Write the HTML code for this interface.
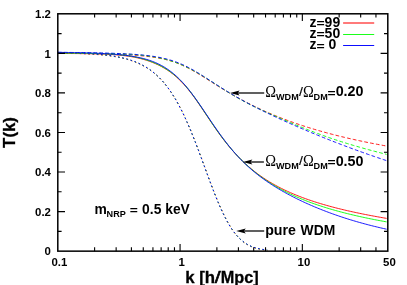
<!DOCTYPE html>
<html><head><meta charset="utf-8"><title>T(k)</title>
<style>
html,body{margin:0;padding:0;background:#fff;}
body{width:407px;height:285px;overflow:hidden;position:relative;font-family:"Liberation Sans",sans-serif;}
svg{position:absolute;left:0;top:0;}
text{font-family:"Liberation Sans",sans-serif;font-weight:bold;fill:#000;}
.om{font-family:"Liberation Serif",serif;font-weight:normal;}
.rg{font-weight:normal;}
</style></head><body>
<svg style="will-change:transform" width="407" height="285" viewBox="0 0 407 285">
<rect x="0" y="0" width="407" height="285" fill="#fff"/>
<g fill="none" stroke-width="0.9">
<path d="M58.0,53.22 L59.5,53.23 L61.0,53.23 L62.5,53.24 L64.0,53.24 L65.5,53.25 L67.0,53.25 L68.5,53.26 L70.0,53.27 L71.5,53.28 L73.0,53.28 L74.5,53.29 L76.0,53.30 L77.5,53.31 L79.0,53.32 L80.5,53.34 L82.0,53.35 L83.5,53.36 L85.0,53.38 L86.5,53.40 L88.0,53.41 L89.5,53.43 L91.0,53.45 L92.5,53.48 L94.0,53.50 L95.5,53.52 L97.0,53.55 L98.5,53.58 L100.0,53.61 L101.5,53.65 L103.0,53.68 L104.5,53.72 L106.0,53.76 L107.5,53.80 L109.0,53.85 L110.5,53.90 L112.0,53.95 L113.5,54.00 L115.0,54.06 L116.5,54.12 L118.0,54.19 L119.5,54.26 L121.0,54.33 L122.5,54.41 L124.0,54.49 L125.5,54.57 L127.0,54.66 L128.6,54.75 L130.1,54.85 L131.6,54.95 L133.1,55.06 L134.6,55.18 L136.1,55.30 L137.6,55.42 L139.1,55.55 L140.6,55.69 L142.1,55.83 L143.6,55.99 L145.1,56.15 L146.6,56.32 L148.1,56.49 L149.6,56.68 L151.1,56.88 L152.6,57.09 L154.1,57.31 L155.6,57.54 L157.1,57.79 L158.6,58.06 L160.1,58.34 L161.6,58.64 L163.1,58.95 L164.6,59.29 L166.1,59.65 L167.6,60.03 L169.1,60.44 L170.6,60.87 L172.1,61.33 L173.6,61.82 L175.1,62.33 L176.6,62.88 L178.1,63.45 L179.6,64.05 L181.1,64.69 L182.6,65.35 L184.1,66.04 L185.6,66.76 L187.1,67.50 L188.6,68.27 L190.1,69.06 L191.6,69.87 L193.1,70.71 L194.6,71.57 L196.1,72.44 L197.6,73.33 L199.1,74.24 L200.6,75.16 L202.1,76.08 L203.6,77.02 L205.1,77.96 L206.6,78.91 L208.1,79.86 L209.6,80.81 L211.1,81.76 L212.6,82.71 L214.1,83.66 L215.6,84.60 L217.1,85.54 L218.6,86.48 L220.1,87.41 L221.6,88.33 L223.1,89.25 L224.6,90.15 L226.1,91.05 L227.6,91.94 L229.1,92.83 L230.6,93.70 L232.1,94.56 L233.6,95.42 L235.1,96.26 L236.6,97.10 L238.1,97.93 L239.6,98.74 L241.1,99.55 L242.6,100.35 L244.1,101.14 L245.6,101.92 L247.1,102.70 L248.6,103.47 L250.1,104.23 L251.6,104.98 L253.1,105.72 L254.6,106.45 L256.1,107.18 L257.6,107.89 L259.1,108.60 L260.6,109.29 L262.1,109.98 L263.6,110.66 L265.1,111.33 L266.6,111.99 L268.1,112.65 L269.6,113.29 L271.1,113.93 L272.6,114.56 L274.1,115.18 L275.6,115.80 L277.1,116.41 L278.6,117.00 L280.1,117.60 L281.6,118.18 L283.1,118.76 L284.6,119.33 L286.1,119.89 L287.6,120.45 L289.1,121.00 L290.6,121.54 L292.1,122.08 L293.6,122.61 L295.1,123.13 L296.6,123.65 L298.1,124.16 L299.6,124.67 L301.1,125.16 L302.6,125.66 L304.1,126.14 L305.6,126.63 L307.1,127.10 L308.6,127.57 L310.1,128.04 L311.6,128.50 L313.1,128.95 L314.6,129.40 L316.1,129.84 L317.6,130.28 L319.1,130.71 L320.6,131.14 L322.1,131.57 L323.6,131.98 L325.1,132.40 L326.6,132.81 L328.1,133.21 L329.6,133.61 L331.1,134.01 L332.6,134.40 L334.1,134.79 L335.6,135.17 L337.1,135.55 L338.6,135.92 L340.1,136.29 L341.6,136.66 L343.1,137.02 L344.6,137.38 L346.1,137.74 L347.6,138.09 L349.1,138.43 L350.6,138.78 L352.1,139.12 L353.6,139.45 L355.1,139.79 L356.6,140.12 L358.1,140.44 L359.6,140.76 L361.1,141.08 L362.6,141.40 L364.1,141.71 L365.6,142.02 L367.1,142.33 L368.6,142.63 L370.1,142.93 L371.6,143.23 L373.1,143.52 L374.6,143.82 L376.1,144.10 L377.6,144.39 L379.1,144.67 L380.6,144.95 L382.1,145.23 L383.6,145.51 L385.1,145.78 L386.6,146.05" stroke="#f00" stroke-dasharray="3.7,2.2"/>
<path d="M58.0,53.06 L59.5,53.06 L61.0,53.06 L62.5,53.07 L64.0,53.07 L65.5,53.08 L67.0,53.08 L68.5,53.08 L70.0,53.09 L71.5,53.10 L73.0,53.10 L74.5,53.11 L76.0,53.12 L77.5,53.12 L79.0,53.13 L80.5,53.14 L82.0,53.15 L83.5,53.16 L85.0,53.17 L86.5,53.18 L88.0,53.19 L89.5,53.21 L91.0,53.22 L92.5,53.24 L94.0,53.25 L95.5,53.27 L97.0,53.29 L98.5,53.31 L100.0,53.33 L101.5,53.36 L103.0,53.38 L104.5,53.41 L106.0,53.44 L107.5,53.47 L109.0,53.50 L110.5,53.54 L112.0,53.58 L113.5,53.62 L115.0,53.66 L116.5,53.71 L118.0,53.76 L119.5,53.82 L121.0,53.87 L122.5,53.94 L124.0,54.00 L125.5,54.08 L127.0,54.15 L128.6,54.23 L130.1,54.32 L131.6,54.42 L133.1,54.52 L134.6,54.63 L136.1,54.74 L137.6,54.86 L139.1,54.99 L140.6,55.14 L142.1,55.28 L143.6,55.44 L145.1,55.61 L146.6,55.80 L148.1,55.99 L149.6,56.20 L151.1,56.41 L152.6,56.65 L154.1,56.89 L155.6,57.16 L157.1,57.43 L158.6,57.73 L160.1,58.04 L161.6,58.37 L163.1,58.72 L164.6,59.09 L166.1,59.48 L167.6,59.89 L169.1,60.32 L170.6,60.78 L172.1,61.25 L173.6,61.75 L175.1,62.27 L176.6,62.82 L178.1,63.39 L179.6,63.99 L181.1,64.61 L182.6,65.25 L184.1,65.92 L185.6,66.61 L187.1,67.33 L188.6,68.06 L190.1,68.82 L191.6,69.60 L193.1,70.41 L194.6,71.23 L196.1,72.07 L197.6,72.94 L199.1,73.81 L200.6,74.71 L202.1,75.62 L203.6,76.54 L205.1,77.47 L206.6,78.41 L208.1,79.36 L209.6,80.32 L211.1,81.28 L212.6,82.25 L214.1,83.22 L215.6,84.19 L217.1,85.16 L218.6,86.13 L220.1,87.10 L221.6,88.06 L223.1,89.01 L224.6,89.96 L226.1,90.91 L227.6,91.84 L229.1,92.76 L230.6,93.68 L232.1,94.58 L233.6,95.47 L235.1,96.36 L236.6,97.23 L238.1,98.08 L239.6,98.93 L241.1,99.76 L242.6,100.58 L244.1,101.39 L245.6,102.19 L247.1,102.98 L248.6,103.75 L250.1,104.52 L251.6,105.27 L253.1,106.01 L254.6,106.75 L256.1,107.47 L257.6,108.18 L259.1,108.89 L260.6,109.59 L262.1,110.28 L263.6,110.97 L265.1,111.64 L266.6,112.32 L268.1,112.99 L269.6,113.65 L271.1,114.31 L272.6,114.97 L274.1,115.63 L275.6,116.28 L277.1,116.93 L278.6,117.58 L280.1,118.22 L281.6,118.87 L283.1,119.51 L284.6,120.15 L286.1,120.79 L287.6,121.43 L289.1,122.06 L290.6,122.70 L292.1,123.33 L293.6,123.96 L295.1,124.58 L296.6,125.20 L298.1,125.82 L299.6,126.44 L301.1,127.05 L302.6,127.66 L304.1,128.26 L305.6,128.86 L307.1,129.45 L308.6,130.04 L310.1,130.63 L311.6,131.21 L313.1,131.79 L314.6,132.36 L316.1,132.92 L317.6,133.48 L319.1,134.04 L320.6,134.59 L322.1,135.13 L323.6,135.67 L325.1,136.21 L326.6,136.74 L328.1,137.26 L329.6,137.78 L331.1,138.29 L332.6,138.80 L334.1,139.31 L335.6,139.81 L337.1,140.30 L338.6,140.79 L340.1,141.28 L341.6,141.76 L343.1,142.23 L344.6,142.70 L346.1,143.17 L347.6,143.63 L349.1,144.09 L350.6,144.55 L352.1,145.00 L353.6,145.44 L355.1,145.89 L356.6,146.32 L358.1,146.76 L359.6,147.19 L361.1,147.62 L362.6,148.04 L364.1,148.46 L365.6,148.88 L367.1,149.29 L368.6,149.70 L370.1,150.11 L371.6,150.51 L373.1,150.91 L374.6,151.31 L376.1,151.70 L377.6,152.10 L379.1,152.48 L380.6,152.87 L382.1,153.25 L383.6,153.63 L385.1,154.01 L386.6,154.38" stroke="#0f0" stroke-dasharray="3.7,2.2"/>
<path d="M58.0,52.33 L59.5,52.34 L61.0,52.35 L62.5,52.37 L64.0,52.38 L65.5,52.40 L67.0,52.41 L68.5,52.43 L70.0,52.44 L71.5,52.46 L73.0,52.47 L74.5,52.49 L76.0,52.51 L77.5,52.53 L79.0,52.55 L80.5,52.57 L82.0,52.59 L83.5,52.61 L85.0,52.64 L86.5,52.66 L88.0,52.68 L89.5,52.71 L91.0,52.74 L92.5,52.76 L94.0,52.79 L95.5,52.82 L97.0,52.86 L98.5,52.89 L100.0,52.92 L101.5,52.96 L103.0,53.00 L104.5,53.03 L106.0,53.08 L107.5,53.12 L109.0,53.16 L110.5,53.21 L112.0,53.26 L113.5,53.31 L115.0,53.36 L116.5,53.42 L118.0,53.48 L119.5,53.54 L121.0,53.60 L122.5,53.67 L124.0,53.74 L125.5,53.82 L127.0,53.90 L128.6,53.98 L130.1,54.07 L131.6,54.16 L133.1,54.26 L134.6,54.37 L136.1,54.48 L137.6,54.59 L139.1,54.72 L140.6,54.85 L142.1,54.99 L143.6,55.13 L145.1,55.29 L146.6,55.46 L148.1,55.64 L149.6,55.82 L151.1,56.03 L152.6,56.24 L154.1,56.47 L155.6,56.71 L157.1,56.97 L158.6,57.24 L160.1,57.53 L161.6,57.84 L163.1,58.17 L164.6,58.52 L166.1,58.89 L167.6,59.28 L169.1,59.70 L170.6,60.14 L172.1,60.61 L173.6,61.10 L175.1,61.62 L176.6,62.17 L178.1,62.74 L179.6,63.35 L181.1,63.97 L182.6,64.63 L184.1,65.32 L185.6,66.03 L187.1,66.78 L188.6,67.55 L190.1,68.35 L191.6,69.17 L193.1,70.01 L194.6,70.87 L196.1,71.76 L197.6,72.65 L199.1,73.57 L200.6,74.49 L202.1,75.43 L203.6,76.38 L205.1,77.34 L206.6,78.30 L208.1,79.27 L209.6,80.24 L211.1,81.21 L212.6,82.18 L214.1,83.15 L215.6,84.12 L217.1,85.08 L218.6,86.04 L220.1,87.00 L221.6,87.95 L223.1,88.89 L224.6,89.82 L226.1,90.75 L227.6,91.67 L229.1,92.58 L230.6,93.48 L232.1,94.38 L233.6,95.26 L235.1,96.14 L236.6,97.01 L238.1,97.87 L239.6,98.72 L241.1,99.57 L242.6,100.40 L244.1,101.23 L245.6,102.05 L247.1,102.85 L248.6,103.65 L250.1,104.44 L251.6,105.22 L253.1,105.99 L254.6,106.76 L256.1,107.53 L257.6,108.28 L259.1,109.03 L260.6,109.78 L262.1,110.52 L263.6,111.25 L265.1,111.98 L266.6,112.70 L268.1,113.42 L269.6,114.14 L271.1,114.85 L272.6,115.55 L274.1,116.26 L275.6,116.95 L277.1,117.65 L278.6,118.34 L280.1,119.02 L281.6,119.71 L283.1,120.39 L284.6,121.06 L286.1,121.73 L287.6,122.40 L289.1,123.07 L290.6,123.73 L292.1,124.39 L293.6,125.05 L295.1,125.70 L296.6,126.36 L298.1,127.00 L299.6,127.65 L301.1,128.29 L302.6,128.93 L304.1,129.57 L305.6,130.21 L307.1,130.84 L308.6,131.47 L310.1,132.09 L311.6,132.72 L313.1,133.34 L314.6,133.96 L316.1,134.58 L317.6,135.19 L319.1,135.80 L320.6,136.41 L322.1,137.02 L323.6,137.62 L325.1,138.22 L326.6,138.82 L328.1,139.42 L329.6,140.01 L331.1,140.60 L332.6,141.19 L334.1,141.77 L335.6,142.36 L337.1,142.94 L338.6,143.52 L340.1,144.09 L341.6,144.66 L343.1,145.23 L344.6,145.80 L346.1,146.37 L347.6,146.93 L349.1,147.49 L350.6,148.05 L352.1,148.60 L353.6,149.15 L355.1,149.70 L356.6,150.25 L358.1,150.79 L359.6,151.33 L361.1,151.87 L362.6,152.41 L364.1,152.94 L365.6,153.48 L367.1,154.00 L368.6,154.53 L370.1,155.05 L371.6,155.57 L373.1,156.09 L374.6,156.61 L376.1,157.12 L377.6,157.63 L379.1,158.14 L380.6,158.64 L382.1,159.15 L383.6,159.65 L385.1,160.15 L386.6,160.64" stroke="#00f" stroke-dasharray="3.7,2.2"/>
<path d="M58.0,53.48 L59.5,53.48 L61.0,53.49 L62.5,53.49 L64.0,53.50 L65.5,53.50 L67.0,53.51 L68.5,53.52 L70.0,53.52 L71.5,53.53 L73.0,53.54 L74.5,53.55 L76.0,53.56 L77.5,53.57 L79.0,53.59 L80.5,53.60 L82.0,53.62 L83.5,53.64 L85.0,53.65 L86.5,53.68 L88.0,53.70 L89.5,53.72 L91.0,53.75 L92.5,53.78 L94.0,53.81 L95.5,53.85 L97.0,53.89 L98.5,53.93 L100.0,53.98 L101.5,54.03 L103.0,54.08 L104.5,54.14 L106.0,54.21 L107.5,54.28 L109.0,54.36 L110.5,54.44 L112.0,54.53 L113.5,54.63 L115.0,54.74 L116.5,54.86 L118.0,54.99 L119.5,55.13 L121.0,55.28 L122.5,55.44 L124.0,55.61 L125.5,55.80 L127.0,56.00 L128.6,56.22 L130.1,56.45 L131.6,56.70 L133.1,56.97 L134.6,57.26 L136.1,57.56 L137.6,57.89 L139.1,58.23 L140.6,58.60 L142.1,59.00 L143.6,59.41 L145.1,59.85 L146.6,60.32 L148.1,60.81 L149.6,61.33 L151.1,61.88 L152.6,62.46 L154.1,63.07 L155.6,63.71 L157.1,64.39 L158.6,65.10 L160.1,65.85 L161.6,66.64 L163.1,67.47 L164.6,68.35 L166.1,69.27 L167.6,70.23 L169.1,71.25 L170.6,72.32 L172.1,73.44 L173.6,74.62 L175.1,75.86 L176.6,77.16 L178.1,78.53 L179.6,79.96 L181.1,81.45 L182.6,83.02 L184.1,84.65 L185.6,86.34 L187.1,88.10 L188.6,89.92 L190.1,91.80 L191.6,93.74 L193.1,95.73 L194.6,97.78 L196.1,99.87 L197.6,102.00 L199.1,104.17 L200.6,106.36 L202.1,108.58 L203.6,110.82 L205.1,113.07 L206.6,115.32 L208.1,117.57 L209.6,119.81 L211.1,122.04 L212.6,124.25 L214.1,126.44 L215.6,128.60 L217.1,130.74 L218.6,132.84 L220.1,134.91 L221.6,136.95 L223.1,138.94 L224.6,140.89 L226.1,142.81 L227.6,144.68 L229.1,146.51 L230.6,148.30 L232.1,150.04 L233.6,151.74 L235.1,153.40 L236.6,155.02 L238.1,156.60 L239.6,158.14 L241.1,159.63 L242.6,161.09 L244.1,162.51 L245.6,163.90 L247.1,165.25 L248.6,166.58 L250.1,167.86 L251.6,169.12 L253.1,170.34 L254.6,171.53 L256.1,172.69 L257.6,173.82 L259.1,174.92 L260.6,175.99 L262.1,177.03 L263.6,178.05 L265.1,179.05 L266.6,180.02 L268.1,180.96 L269.6,181.88 L271.1,182.78 L272.6,183.66 L274.1,184.52 L275.6,185.35 L277.1,186.17 L278.6,186.97 L280.1,187.75 L281.6,188.51 L283.1,189.25 L284.6,189.98 L286.1,190.69 L287.6,191.39 L289.1,192.07 L290.6,192.74 L292.1,193.39 L293.6,194.03 L295.1,194.66 L296.6,195.27 L298.1,195.87 L299.6,196.46 L301.1,197.04 L302.6,197.61 L304.1,198.16 L305.6,198.71 L307.1,199.24 L308.6,199.76 L310.1,200.28 L311.6,200.78 L313.1,201.28 L314.6,201.77 L316.1,202.25 L317.6,202.72 L319.1,203.18 L320.6,203.64 L322.1,204.08 L323.6,204.53 L325.1,204.96 L326.6,205.38 L328.1,205.80 L329.6,206.22 L331.1,206.62 L332.6,207.02 L334.1,207.42 L335.6,207.81 L337.1,208.19 L338.6,208.57 L340.1,208.94 L341.6,209.30 L343.1,209.66 L344.6,210.02 L346.1,210.37 L347.6,210.72 L349.1,211.06 L350.6,211.40 L352.1,211.73 L353.6,212.06 L355.1,212.38 L356.6,212.70 L358.1,213.02 L359.6,213.33 L361.1,213.64 L362.6,213.95 L364.1,214.25 L365.6,214.55 L367.1,214.84 L368.6,215.13 L370.1,215.42 L371.6,215.70 L373.1,215.99 L374.6,216.26 L376.1,216.54 L377.6,216.81 L379.1,217.08 L380.6,217.34 L382.1,217.61 L383.6,217.87 L385.1,218.13 L386.6,218.38" stroke="#f00"/>
<path d="M58.0,53.14 L59.5,53.15 L61.0,53.15 L62.5,53.15 L64.0,53.16 L65.5,53.17 L67.0,53.17 L68.5,53.18 L70.0,53.19 L71.5,53.19 L73.0,53.20 L74.5,53.21 L76.0,53.22 L77.5,53.24 L79.0,53.25 L80.5,53.26 L82.0,53.28 L83.5,53.30 L85.0,53.31 L86.5,53.34 L88.0,53.36 L89.5,53.38 L91.0,53.41 L92.5,53.44 L94.0,53.47 L95.5,53.50 L97.0,53.54 L98.5,53.58 L100.0,53.63 L101.5,53.68 L103.0,53.73 L104.5,53.79 L106.0,53.86 L107.5,53.93 L109.0,54.01 L110.5,54.09 L112.0,54.18 L113.5,54.28 L115.0,54.39 L116.5,54.50 L118.0,54.63 L119.5,54.76 L121.0,54.91 L122.5,55.07 L124.0,55.24 L125.5,55.43 L127.0,55.63 L128.6,55.85 L130.1,56.08 L131.6,56.33 L133.1,56.60 L134.6,56.88 L136.1,57.19 L137.6,57.52 L139.1,57.87 L140.6,58.24 L142.1,58.63 L143.6,59.05 L145.1,59.50 L146.6,59.97 L148.1,60.46 L149.6,60.99 L151.1,61.54 L152.6,62.13 L154.1,62.74 L155.6,63.39 L157.1,64.07 L158.6,64.79 L160.1,65.54 L161.6,66.33 L163.1,67.16 L164.6,68.03 L166.1,68.95 L167.6,69.91 L169.1,70.92 L170.6,71.98 L172.1,73.10 L173.6,74.27 L175.1,75.50 L176.6,76.80 L178.1,78.15 L179.6,79.58 L181.1,81.07 L182.6,82.63 L184.1,84.25 L185.6,85.95 L187.1,87.71 L188.6,89.54 L190.1,91.43 L191.6,93.39 L193.1,95.40 L194.6,97.46 L196.1,99.57 L197.6,101.72 L199.1,103.91 L200.6,106.12 L202.1,108.35 L203.6,110.61 L205.1,112.86 L206.6,115.12 L208.1,117.38 L209.6,119.63 L211.1,121.86 L212.6,124.08 L214.1,126.27 L215.6,128.44 L217.1,130.57 L218.6,132.68 L220.1,134.75 L221.6,136.78 L223.1,138.77 L224.6,140.73 L226.1,142.65 L227.6,144.52 L229.1,146.36 L230.6,148.16 L232.1,149.91 L233.6,151.63 L235.1,153.30 L236.6,154.94 L238.1,156.54 L239.6,158.10 L241.1,159.62 L242.6,161.10 L244.1,162.55 L245.6,163.97 L247.1,165.35 L248.6,166.70 L250.1,168.02 L251.6,169.31 L253.1,170.56 L254.6,171.79 L256.1,172.99 L257.6,174.16 L259.1,175.30 L260.6,176.41 L262.1,177.50 L263.6,178.56 L265.1,179.60 L266.6,180.62 L268.1,181.61 L269.6,182.58 L271.1,183.53 L272.6,184.45 L274.1,185.36 L275.6,186.25 L277.1,187.12 L278.6,187.97 L280.1,188.80 L281.6,189.61 L283.1,190.41 L284.6,191.19 L286.1,191.95 L287.6,192.70 L289.1,193.43 L290.6,194.15 L292.1,194.85 L293.6,195.54 L295.1,196.22 L296.6,196.88 L298.1,197.53 L299.6,198.17 L301.1,198.80 L302.6,199.41 L304.1,200.01 L305.6,200.60 L307.1,201.19 L308.6,201.76 L310.1,202.32 L311.6,202.87 L313.1,203.41 L314.6,203.94 L316.1,204.46 L317.6,204.97 L319.1,205.48 L320.6,205.97 L322.1,206.46 L323.6,206.94 L325.1,207.41 L326.6,207.88 L328.1,208.34 L329.6,208.79 L331.1,209.23 L332.6,209.66 L334.1,210.09 L335.6,210.52 L337.1,210.93 L338.6,211.34 L340.1,211.75 L341.6,212.14 L343.1,212.54 L344.6,212.92 L346.1,213.30 L347.6,213.68 L349.1,214.05 L350.6,214.41 L352.1,214.77 L353.6,215.13 L355.1,215.48 L356.6,215.82 L358.1,216.16 L359.6,216.50 L361.1,216.83 L362.6,217.16 L364.1,217.48 L365.6,217.80 L367.1,218.12 L368.6,218.43 L370.1,218.74 L371.6,219.04 L373.1,219.34 L374.6,219.64 L376.1,219.93 L377.6,220.22 L379.1,220.50 L380.6,220.78 L382.1,221.06 L383.6,221.34 L385.1,221.61 L386.6,221.88" stroke="#0f0"/>
<path d="M58.0,52.36 L59.5,52.38 L61.0,52.40 L62.5,52.42 L64.0,52.44 L65.5,52.46 L67.0,52.48 L68.5,52.50 L70.0,52.53 L71.5,52.55 L73.0,52.58 L74.5,52.61 L76.0,52.64 L77.5,52.67 L79.0,52.70 L80.5,52.73 L82.0,52.77 L83.5,52.81 L85.0,52.84 L86.5,52.89 L88.0,52.93 L89.5,52.98 L91.0,53.02 L92.5,53.07 L94.0,53.13 L95.5,53.18 L97.0,53.24 L98.5,53.30 L100.0,53.37 L101.5,53.44 L103.0,53.51 L104.5,53.59 L106.0,53.67 L107.5,53.76 L109.0,53.85 L110.5,53.95 L112.0,54.05 L113.5,54.16 L115.0,54.28 L116.5,54.40 L118.0,54.53 L119.5,54.67 L121.0,54.82 L122.5,54.98 L124.0,55.15 L125.5,55.32 L127.0,55.51 L128.6,55.71 L130.1,55.93 L131.6,56.15 L133.1,56.40 L134.6,56.65 L136.1,56.93 L137.6,57.22 L139.1,57.53 L140.6,57.87 L142.1,58.22 L143.6,58.60 L145.1,59.00 L146.6,59.43 L148.1,59.89 L149.6,60.37 L151.1,60.89 L152.6,61.44 L154.1,62.03 L155.6,62.65 L157.1,63.31 L158.6,64.02 L160.1,64.77 L161.6,65.56 L163.1,66.40 L164.6,67.29 L166.1,68.23 L167.6,69.23 L169.1,70.28 L170.6,71.38 L172.1,72.55 L173.6,73.78 L175.1,75.06 L176.6,76.41 L178.1,77.82 L179.6,79.30 L181.1,80.84 L182.6,82.43 L184.1,84.10 L185.6,85.82 L187.1,87.61 L188.6,89.45 L190.1,91.35 L191.6,93.30 L193.1,95.30 L194.6,97.34 L196.1,99.42 L197.6,101.54 L199.1,103.68 L200.6,105.86 L202.1,108.05 L203.6,110.27 L205.1,112.49 L206.6,114.72 L208.1,116.95 L209.6,119.18 L211.1,121.40 L212.6,123.61 L214.1,125.81 L215.6,127.98 L217.1,130.13 L218.6,132.25 L220.1,134.35 L221.6,136.41 L223.1,138.44 L224.6,140.43 L226.1,142.39 L227.6,144.31 L229.1,146.19 L230.6,148.02 L232.1,149.82 L233.6,151.58 L235.1,153.30 L236.6,154.97 L238.1,156.61 L239.6,158.21 L241.1,159.77 L242.6,161.29 L244.1,162.78 L245.6,164.22 L247.1,165.63 L248.6,167.00 L250.1,168.34 L251.6,169.65 L253.1,170.92 L254.6,172.17 L256.1,173.39 L257.6,174.58 L259.1,175.74 L260.6,176.88 L262.1,178.00 L263.6,179.09 L265.1,180.15 L266.6,181.20 L268.1,182.23 L269.6,183.23 L271.1,184.22 L272.6,185.19 L274.1,186.14 L275.6,187.07 L277.1,187.99 L278.6,188.89 L280.1,189.77 L281.6,190.64 L283.1,191.50 L284.6,192.34 L286.1,193.17 L287.6,193.99 L289.1,194.79 L290.6,195.58 L292.1,196.36 L293.6,197.13 L295.1,197.89 L296.6,198.64 L298.1,199.38 L299.6,200.10 L301.1,200.82 L302.6,201.52 L304.1,202.22 L305.6,202.91 L307.1,203.59 L308.6,204.26 L310.1,204.92 L311.6,205.57 L313.1,206.21 L314.6,206.85 L316.1,207.47 L317.6,208.09 L319.1,208.70 L320.6,209.30 L322.1,209.90 L323.6,210.49 L325.1,211.06 L326.6,211.64 L328.1,212.20 L329.6,212.76 L331.1,213.31 L332.6,213.85 L334.1,214.38 L335.6,214.91 L337.1,215.43 L338.6,215.95 L340.1,216.46 L341.6,216.96 L343.1,217.45 L344.6,217.94 L346.1,218.42 L347.6,218.90 L349.1,219.36 L350.6,219.83 L352.1,220.28 L353.6,220.73 L355.1,221.18 L356.6,221.61 L358.1,222.05 L359.6,222.47 L361.1,222.89 L362.6,223.31 L364.1,223.71 L365.6,224.12 L367.1,224.51 L368.6,224.91 L370.1,225.29 L371.6,225.67 L373.1,226.05 L374.6,226.42 L376.1,226.78 L377.6,227.14 L379.1,227.50 L380.6,227.85 L382.1,228.19 L383.6,228.53 L385.1,228.87 L386.6,229.20" stroke="#00f"/>
<path d="M58.0,52.65 L59.0,52.66 L60.0,52.68 L61.0,52.70 L62.0,52.71 L63.0,52.73 L64.0,52.75 L65.0,52.77 L66.0,52.79 L67.0,52.81 L68.0,52.84 L69.0,52.86 L70.0,52.88 L71.0,52.91 L72.0,52.94 L73.0,52.96 L74.0,52.99 L75.0,53.02 L76.0,53.05 L77.0,53.09 L78.0,53.12 L79.0,53.16 L80.0,53.20 L81.0,53.24 L82.0,53.28 L83.0,53.32 L84.0,53.36 L85.0,53.41 L86.0,53.46 L87.0,53.51 L88.0,53.56 L89.0,53.62 L90.0,53.68 L91.0,53.74 L92.0,53.80 L93.0,53.87 L94.0,53.94 L95.0,54.01 L96.0,54.08 L97.0,54.16 L98.0,54.24 L99.0,54.33 L100.0,54.42 L101.0,54.51 L102.0,54.61 L103.0,54.71 L104.0,54.81 L105.0,54.92 L106.0,55.04 L107.0,55.16 L108.0,55.28 L109.0,55.42 L110.0,55.55 L111.0,55.69 L112.0,55.84 L113.0,56.00 L114.0,56.16 L115.0,56.33 L116.0,56.50 L117.0,56.69 L118.0,56.88 L119.0,57.08 L120.0,57.29 L121.0,57.50 L122.0,57.73 L123.0,57.96 L124.0,58.21 L125.0,58.47 L126.0,58.73 L127.0,59.01 L128.1,59.30 L129.1,59.61 L130.1,59.92 L131.1,60.25 L132.1,60.59 L133.1,60.95 L134.1,61.32 L135.1,61.71 L136.1,62.11 L137.1,62.53 L138.1,62.97 L139.1,63.43 L140.1,63.90 L141.1,64.39 L142.1,64.91 L143.1,65.44 L144.1,65.99 L145.1,66.57 L146.1,67.17 L147.1,67.80 L148.1,68.45 L149.1,69.12 L150.1,69.82 L151.1,70.55 L152.1,71.31 L153.1,72.09 L154.1,72.91 L155.1,73.76 L156.1,74.63 L157.1,75.55 L158.1,76.49 L159.1,77.47 L160.1,78.49 L161.1,79.54 L162.1,80.63 L163.1,81.76 L164.1,82.92 L165.1,84.13 L166.1,85.38 L167.1,86.67 L168.1,88.00 L169.1,89.38 L170.1,90.80 L171.1,92.27 L172.1,93.79 L173.1,95.35 L174.1,96.96 L175.1,98.61 L176.1,100.31 L177.1,102.07 L178.1,103.87 L179.1,105.72 L180.1,107.62 L181.1,109.57 L182.1,111.56 L183.1,113.61 L184.1,115.70 L185.1,117.85 L186.1,120.03 L187.1,122.27 L188.1,124.55 L189.1,126.87 L190.1,129.24 L191.1,131.65 L192.1,134.10 L193.1,136.58 L194.1,139.10 L195.1,141.66 L196.1,144.24 L197.1,146.86 L198.1,149.50 L199.1,152.16 L200.1,154.84 L201.1,157.54 L202.1,160.25 L203.1,162.97 L204.1,165.69 L205.1,168.42 L206.1,171.15 L207.1,173.87 L208.1,176.58 L209.1,179.27 L210.1,181.95 L211.1,184.61 L212.1,187.24 L213.1,189.84 L214.1,192.41 L215.1,194.94 L216.1,197.42 L217.1,199.87 L218.1,202.26 L219.1,204.61 L220.1,206.90 L221.1,209.13 L222.1,211.30 L223.1,213.42 L224.1,215.46 L225.1,217.45 L226.1,219.36 L227.1,221.21 L228.1,222.99 L229.1,224.69 L230.1,226.33 L231.1,227.90 L232.1,229.40 L233.1,230.83 L234.1,232.18 L235.1,233.48 L236.1,234.70 L237.1,235.86 L238.1,236.95 L239.1,237.98 L240.1,238.95 L241.1,239.87 L242.1,240.72 L243.1,241.52 L244.1,242.27 L245.1,242.97 L246.1,243.62 L247.1,244.23 L248.1,244.79 L249.1,245.31 L250.1,245.79 L251.1,246.23 L252.1,246.64 L253.1,247.02 L254.1,247.37 L255.1,247.68 L256.1,247.98 L257.1,248.24 L258.1,248.49 L259.1,248.71 L260.1,248.91 L261.1,249.10 L262.1,249.27 L263.1,249.42 L264.1,249.56 L265.1,249.69 L266.1,249.80 L267.1,249.90" stroke="#f00" stroke-dasharray="1.6,2.7" stroke-width="1" transform="translate(0.3,0.4)"/>
<path d="M58.0,52.65 L59.0,52.66 L60.0,52.68 L61.0,52.70 L62.0,52.71 L63.0,52.73 L64.0,52.75 L65.0,52.77 L66.0,52.79 L67.0,52.81 L68.0,52.84 L69.0,52.86 L70.0,52.88 L71.0,52.91 L72.0,52.94 L73.0,52.96 L74.0,52.99 L75.0,53.02 L76.0,53.05 L77.0,53.09 L78.0,53.12 L79.0,53.16 L80.0,53.20 L81.0,53.24 L82.0,53.28 L83.0,53.32 L84.0,53.36 L85.0,53.41 L86.0,53.46 L87.0,53.51 L88.0,53.56 L89.0,53.62 L90.0,53.68 L91.0,53.74 L92.0,53.80 L93.0,53.87 L94.0,53.94 L95.0,54.01 L96.0,54.08 L97.0,54.16 L98.0,54.24 L99.0,54.33 L100.0,54.42 L101.0,54.51 L102.0,54.61 L103.0,54.71 L104.0,54.81 L105.0,54.92 L106.0,55.04 L107.0,55.16 L108.0,55.28 L109.0,55.42 L110.0,55.55 L111.0,55.69 L112.0,55.84 L113.0,56.00 L114.0,56.16 L115.0,56.33 L116.0,56.50 L117.0,56.69 L118.0,56.88 L119.0,57.08 L120.0,57.29 L121.0,57.50 L122.0,57.73 L123.0,57.96 L124.0,58.21 L125.0,58.47 L126.0,58.73 L127.0,59.01 L128.1,59.30 L129.1,59.61 L130.1,59.92 L131.1,60.25 L132.1,60.59 L133.1,60.95 L134.1,61.32 L135.1,61.71 L136.1,62.11 L137.1,62.53 L138.1,62.97 L139.1,63.43 L140.1,63.90 L141.1,64.39 L142.1,64.91 L143.1,65.44 L144.1,65.99 L145.1,66.57 L146.1,67.17 L147.1,67.80 L148.1,68.45 L149.1,69.12 L150.1,69.82 L151.1,70.55 L152.1,71.31 L153.1,72.09 L154.1,72.91 L155.1,73.76 L156.1,74.63 L157.1,75.55 L158.1,76.49 L159.1,77.47 L160.1,78.49 L161.1,79.54 L162.1,80.63 L163.1,81.76 L164.1,82.92 L165.1,84.13 L166.1,85.38 L167.1,86.67 L168.1,88.00 L169.1,89.38 L170.1,90.80 L171.1,92.27 L172.1,93.79 L173.1,95.35 L174.1,96.96 L175.1,98.61 L176.1,100.31 L177.1,102.07 L178.1,103.87 L179.1,105.72 L180.1,107.62 L181.1,109.57 L182.1,111.56 L183.1,113.61 L184.1,115.70 L185.1,117.85 L186.1,120.03 L187.1,122.27 L188.1,124.55 L189.1,126.87 L190.1,129.24 L191.1,131.65 L192.1,134.10 L193.1,136.58 L194.1,139.10 L195.1,141.66 L196.1,144.24 L197.1,146.86 L198.1,149.50 L199.1,152.16 L200.1,154.84 L201.1,157.54 L202.1,160.25 L203.1,162.97 L204.1,165.69 L205.1,168.42 L206.1,171.15 L207.1,173.87 L208.1,176.58 L209.1,179.27 L210.1,181.95 L211.1,184.61 L212.1,187.24 L213.1,189.84 L214.1,192.41 L215.1,194.94 L216.1,197.42 L217.1,199.87 L218.1,202.26 L219.1,204.61 L220.1,206.90 L221.1,209.13 L222.1,211.30 L223.1,213.42 L224.1,215.46 L225.1,217.45 L226.1,219.36 L227.1,221.21 L228.1,222.99 L229.1,224.69 L230.1,226.33 L231.1,227.90 L232.1,229.40 L233.1,230.83 L234.1,232.18 L235.1,233.48 L236.1,234.70 L237.1,235.86 L238.1,236.95 L239.1,237.98 L240.1,238.95 L241.1,239.87 L242.1,240.72 L243.1,241.52 L244.1,242.27 L245.1,242.97 L246.1,243.62 L247.1,244.23 L248.1,244.79 L249.1,245.31 L250.1,245.79 L251.1,246.23 L252.1,246.64 L253.1,247.02 L254.1,247.37 L255.1,247.68 L256.1,247.98 L257.1,248.24 L258.1,248.49 L259.1,248.71 L260.1,248.91 L261.1,249.10 L262.1,249.27 L263.1,249.42 L264.1,249.56 L265.1,249.69 L266.1,249.80 L267.1,249.90" stroke="#0f0" stroke-dasharray="1.6,2.7" stroke-width="1" transform="translate(0.15,0.2)"/>
<path d="M58.0,52.65 L59.0,52.66 L60.0,52.68 L61.0,52.70 L62.0,52.71 L63.0,52.73 L64.0,52.75 L65.0,52.77 L66.0,52.79 L67.0,52.81 L68.0,52.84 L69.0,52.86 L70.0,52.88 L71.0,52.91 L72.0,52.94 L73.0,52.96 L74.0,52.99 L75.0,53.02 L76.0,53.05 L77.0,53.09 L78.0,53.12 L79.0,53.16 L80.0,53.20 L81.0,53.24 L82.0,53.28 L83.0,53.32 L84.0,53.36 L85.0,53.41 L86.0,53.46 L87.0,53.51 L88.0,53.56 L89.0,53.62 L90.0,53.68 L91.0,53.74 L92.0,53.80 L93.0,53.87 L94.0,53.94 L95.0,54.01 L96.0,54.08 L97.0,54.16 L98.0,54.24 L99.0,54.33 L100.0,54.42 L101.0,54.51 L102.0,54.61 L103.0,54.71 L104.0,54.81 L105.0,54.92 L106.0,55.04 L107.0,55.16 L108.0,55.28 L109.0,55.42 L110.0,55.55 L111.0,55.69 L112.0,55.84 L113.0,56.00 L114.0,56.16 L115.0,56.33 L116.0,56.50 L117.0,56.69 L118.0,56.88 L119.0,57.08 L120.0,57.29 L121.0,57.50 L122.0,57.73 L123.0,57.96 L124.0,58.21 L125.0,58.47 L126.0,58.73 L127.0,59.01 L128.1,59.30 L129.1,59.61 L130.1,59.92 L131.1,60.25 L132.1,60.59 L133.1,60.95 L134.1,61.32 L135.1,61.71 L136.1,62.11 L137.1,62.53 L138.1,62.97 L139.1,63.43 L140.1,63.90 L141.1,64.39 L142.1,64.91 L143.1,65.44 L144.1,65.99 L145.1,66.57 L146.1,67.17 L147.1,67.80 L148.1,68.45 L149.1,69.12 L150.1,69.82 L151.1,70.55 L152.1,71.31 L153.1,72.09 L154.1,72.91 L155.1,73.76 L156.1,74.63 L157.1,75.55 L158.1,76.49 L159.1,77.47 L160.1,78.49 L161.1,79.54 L162.1,80.63 L163.1,81.76 L164.1,82.92 L165.1,84.13 L166.1,85.38 L167.1,86.67 L168.1,88.00 L169.1,89.38 L170.1,90.80 L171.1,92.27 L172.1,93.79 L173.1,95.35 L174.1,96.96 L175.1,98.61 L176.1,100.31 L177.1,102.07 L178.1,103.87 L179.1,105.72 L180.1,107.62 L181.1,109.57 L182.1,111.56 L183.1,113.61 L184.1,115.70 L185.1,117.85 L186.1,120.03 L187.1,122.27 L188.1,124.55 L189.1,126.87 L190.1,129.24 L191.1,131.65 L192.1,134.10 L193.1,136.58 L194.1,139.10 L195.1,141.66 L196.1,144.24 L197.1,146.86 L198.1,149.50 L199.1,152.16 L200.1,154.84 L201.1,157.54 L202.1,160.25 L203.1,162.97 L204.1,165.69 L205.1,168.42 L206.1,171.15 L207.1,173.87 L208.1,176.58 L209.1,179.27 L210.1,181.95 L211.1,184.61 L212.1,187.24 L213.1,189.84 L214.1,192.41 L215.1,194.94 L216.1,197.42 L217.1,199.87 L218.1,202.26 L219.1,204.61 L220.1,206.90 L221.1,209.13 L222.1,211.30 L223.1,213.42 L224.1,215.46 L225.1,217.45 L226.1,219.36 L227.1,221.21 L228.1,222.99 L229.1,224.69 L230.1,226.33 L231.1,227.90 L232.1,229.40 L233.1,230.83 L234.1,232.18 L235.1,233.48 L236.1,234.70 L237.1,235.86 L238.1,236.95 L239.1,237.98 L240.1,238.95 L241.1,239.87 L242.1,240.72 L243.1,241.52 L244.1,242.27 L245.1,242.97 L246.1,243.62 L247.1,244.23 L248.1,244.79 L249.1,245.31 L250.1,245.79 L251.1,246.23 L252.1,246.64 L253.1,247.02 L254.1,247.37 L255.1,247.68 L256.1,247.98 L257.1,248.24 L258.1,248.49 L259.1,248.71 L260.1,248.91 L261.1,249.10 L262.1,249.27 L263.1,249.42 L264.1,249.56 L265.1,249.69 L266.1,249.80 L267.1,249.90" stroke="#00f" stroke-dasharray="1.6,2.7" stroke-width="1"/>
</g>
<g fill="none">
<path d="M343.1,23.0H374.2" stroke="#f00" stroke-width="1.05"/>
<path d="M343.1,34.5H374.2" stroke="#0f0" stroke-width="0.9"/>
<path d="M343.1,45.5H374.2" stroke="#00f" stroke-width="0.95"/>
</g>
<rect x="57.8" y="13.8" width="330.00" height="237.35" fill="none" stroke="#000" stroke-width="1.5"/>
<path d="M94.61,251.15L94.61,247.35M94.61,13.80L94.61,17.60M116.14,251.15L116.14,247.35M116.14,13.80L116.14,17.60M131.41,251.15L131.41,247.35M131.41,13.80L131.41,17.60M143.26,251.15L143.26,247.35M143.26,13.80L143.26,17.60M152.94,251.15L152.94,247.35M152.94,13.80L152.94,17.60M161.13,251.15L161.13,247.35M161.13,13.80L161.13,17.60M168.22,251.15L168.22,247.35M168.22,13.80L168.22,17.60M174.47,251.15L174.47,247.35M174.47,13.80L174.47,17.60M180.07,251.15L180.07,243.95M180.07,13.80L180.07,21.00M216.88,251.15L216.88,247.35M216.88,13.80L216.88,17.60M238.41,251.15L238.41,247.35M238.41,13.80L238.41,17.60M253.68,251.15L253.68,247.35M253.68,13.80L253.68,17.60M265.53,251.15L265.53,247.35M265.53,13.80L265.53,17.60M275.21,251.15L275.21,247.35M275.21,13.80L275.21,17.60M283.40,251.15L283.40,247.35M283.40,13.80L283.40,17.60M290.49,251.15L290.49,247.35M290.49,13.80L290.49,17.60M296.74,251.15L296.74,247.35M296.74,13.80L296.74,17.60M302.34,251.15L302.34,243.95M302.34,13.80L302.34,21.00M339.14,251.15L339.14,247.35M339.14,13.80L339.14,17.60M360.67,251.15L360.67,247.35M360.67,13.80L360.67,17.60M375.95,251.15L375.95,247.35M375.95,13.80L375.95,17.60M57.80,231.37L61.60,231.37M387.80,231.37L384.00,231.37M57.80,211.59L65.00,211.59M387.80,211.59L380.60,211.59M57.80,191.81L61.60,191.81M387.80,191.81L384.00,191.81M57.80,172.03L65.00,172.03M387.80,172.03L380.60,172.03M57.80,152.25L61.60,152.25M387.80,152.25L384.00,152.25M57.80,132.47L65.00,132.47M387.80,132.47L380.60,132.47M57.80,112.70L61.60,112.70M387.80,112.70L384.00,112.70M57.80,92.92L65.00,92.92M387.80,92.92L380.60,92.92M57.80,73.14L61.60,73.14M387.80,73.14L384.00,73.14M57.80,53.36L65.00,53.36M387.80,53.36L380.60,53.36M57.80,33.58L61.60,33.58M387.80,33.58L384.00,33.58" stroke="#000" stroke-width="1.1" fill="none"/>
<path d="M264.2,93.0H236.0" fill="none" stroke="#000" stroke-width="1.25"/><path d="M230.0,93.0L239.6,90.4L237.6,93.0L239.6,95.6Z" fill="#000"/>
<path d="M263.9,162.0H248.8" fill="none" stroke="#000" stroke-width="1.25"/><path d="M242.8,162.0L252.4,159.4L250.4,162.0L252.4,164.6Z" fill="#000"/>
<path d="M264.2,231.0H242.2" fill="none" stroke="#000" stroke-width="1.25"/><path d="M236.2,231.0L245.79999999999998,228.4L243.79999999999998,231.0L245.79999999999998,233.6Z" fill="#000"/>
<text transform="translate(50.90,18.10) scale(1.0,1)" font-size="11.4" text-anchor="end" xml:space="preserve">1.2</text>
<text transform="translate(50.90,57.66) scale(1.0,1)" font-size="11.4" text-anchor="end" xml:space="preserve">1</text>
<text transform="translate(50.90,97.22) scale(1.0,1)" font-size="11.4" text-anchor="end" xml:space="preserve">0.8</text>
<text transform="translate(50.90,136.78) scale(1.0,1)" font-size="11.4" text-anchor="end" xml:space="preserve">0.6</text>
<text transform="translate(50.90,176.33) scale(1.0,1)" font-size="11.4" text-anchor="end" xml:space="preserve">0.4</text>
<text transform="translate(50.90,215.89) scale(1.0,1)" font-size="11.4" text-anchor="end" xml:space="preserve">0.2</text>
<text transform="translate(50.90,255.45) scale(1.0,1)" font-size="11.4" text-anchor="end" xml:space="preserve">0</text>
<text transform="translate(59.40,266.20) scale(1.0,1)" font-size="11.4" text-anchor="middle" xml:space="preserve">0.1</text>
<text transform="translate(181.67,266.20) scale(1.0,1)" font-size="11.4" text-anchor="middle" xml:space="preserve">1</text>
<text transform="translate(303.94,266.20) scale(1.0,1)" font-size="11.4" text-anchor="middle" xml:space="preserve">10</text>
<text transform="translate(389.40,266.20) scale(1.0,1)" font-size="11.4" text-anchor="middle" xml:space="preserve">50</text>
<text transform="translate(309.40,26.70) scale(1.0,1.0)" font-size="14.0" xml:space="preserve">z</text>
<text transform="translate(316.45,27.15) scale(1.0,0.82)" font-size="14.0" xml:space="preserve">=</text>
<text transform="translate(324.60,26.70) scale(1.0,1.0)" font-size="14.0" xml:space="preserve">99</text>
<text transform="translate(309.40,38.00) scale(1.0,1.0)" font-size="14.0" xml:space="preserve">z</text>
<text transform="translate(316.45,38.45) scale(1.0,0.82)" font-size="14.0" xml:space="preserve">=</text>
<text transform="translate(324.60,38.00) scale(1.0,1.0)" font-size="14.0" xml:space="preserve">50</text>
<text transform="translate(309.40,49.30) scale(1.0,1.0)" font-size="14.0" xml:space="preserve">z</text>
<text transform="translate(316.45,49.75) scale(1.0,0.82)" font-size="14.0" xml:space="preserve">=</text>
<text transform="translate(324.60,49.30) scale(1.0,1.0)" font-size="14.0" xml:space="preserve"> 0</text>
<text transform="translate(185.20,282.90) scale(1.0,1.01)" font-size="16.8" stroke="#000" stroke-width="0.3" xml:space="preserve">k [h</text>
<text transform="translate(214.70,282.90) scale(1.26,1.01)" font-size="16.8" class="rg" stroke="#000" stroke-width="0.6" xml:space="preserve">/</text>
<text transform="translate(220.70,282.90) scale(0.97,1.01)" font-size="16.8" stroke="#000" stroke-width="0.3" xml:space="preserve">Mpc]</text>
<text transform="translate(15.3,132.5) rotate(-90) scale(1,1.02)" font-size="16.8" text-anchor="middle" stroke="#000" stroke-width="0.3">T(k)</text>
<text transform="translate(265.30,96.80) scale(0.92,1.0)" font-size="15.8" class="om" xml:space="preserve">Ω</text>
<text transform="translate(276.00,99.80) scale(1.0,1.0)" font-size="9.1" xml:space="preserve">WDM</text>
<text transform="translate(299.10,96.00) scale(1.17,1.0)" font-size="12.0" class="rg" stroke="#000" stroke-width="0.15" xml:space="preserve">/</text>
<text transform="translate(302.90,96.80) scale(0.92,1.0)" font-size="15.8" class="om" xml:space="preserve">Ω</text>
<text transform="translate(313.60,99.80) scale(1.0,1.0)" font-size="9.1" xml:space="preserve">DM</text>
<text transform="translate(327.60,96.85) scale(1.0,0.82)" font-size="13.85" xml:space="preserve">=</text>
<text transform="translate(335.65,96.40) scale(1.035,1.0)" font-size="13.85" xml:space="preserve">0.20</text>
<text transform="translate(265.30,166.20) scale(0.92,1.0)" font-size="15.8" class="om" xml:space="preserve">Ω</text>
<text transform="translate(276.00,169.20) scale(1.0,1.0)" font-size="9.1" xml:space="preserve">WDM</text>
<text transform="translate(299.10,165.40) scale(1.17,1.0)" font-size="12.0" class="rg" stroke="#000" stroke-width="0.15" xml:space="preserve">/</text>
<text transform="translate(302.90,166.20) scale(0.92,1.0)" font-size="15.8" class="om" xml:space="preserve">Ω</text>
<text transform="translate(313.60,169.20) scale(1.0,1.0)" font-size="9.1" xml:space="preserve">DM</text>
<text transform="translate(327.60,166.25) scale(1.0,0.82)" font-size="13.85" xml:space="preserve">=</text>
<text transform="translate(335.65,165.80) scale(1.035,1.0)" font-size="13.85" xml:space="preserve">0.50</text>
<text transform="translate(265.20,234.70) scale(1.0,1.0)" font-size="14.2" xml:space="preserve">pure</text>
<text transform="translate(300.60,234.70) scale(1.0,1.0)" font-size="13.85" xml:space="preserve">WDM</text>
<text transform="translate(94.40,213.60) scale(1.0,1.0)" font-size="13.85" xml:space="preserve">m</text>
<text transform="translate(106.60,217.40) scale(1.0,1.0)" font-size="9.1" xml:space="preserve">NRP</text>
<text transform="translate(129.70,214.05) scale(1.0,0.82)" font-size="13.85" xml:space="preserve">=</text>
<text transform="translate(142.10,213.60) scale(1.0,1.0)" font-size="13.85" xml:space="preserve">0.5 keV</text>
</svg>
</body></html>
